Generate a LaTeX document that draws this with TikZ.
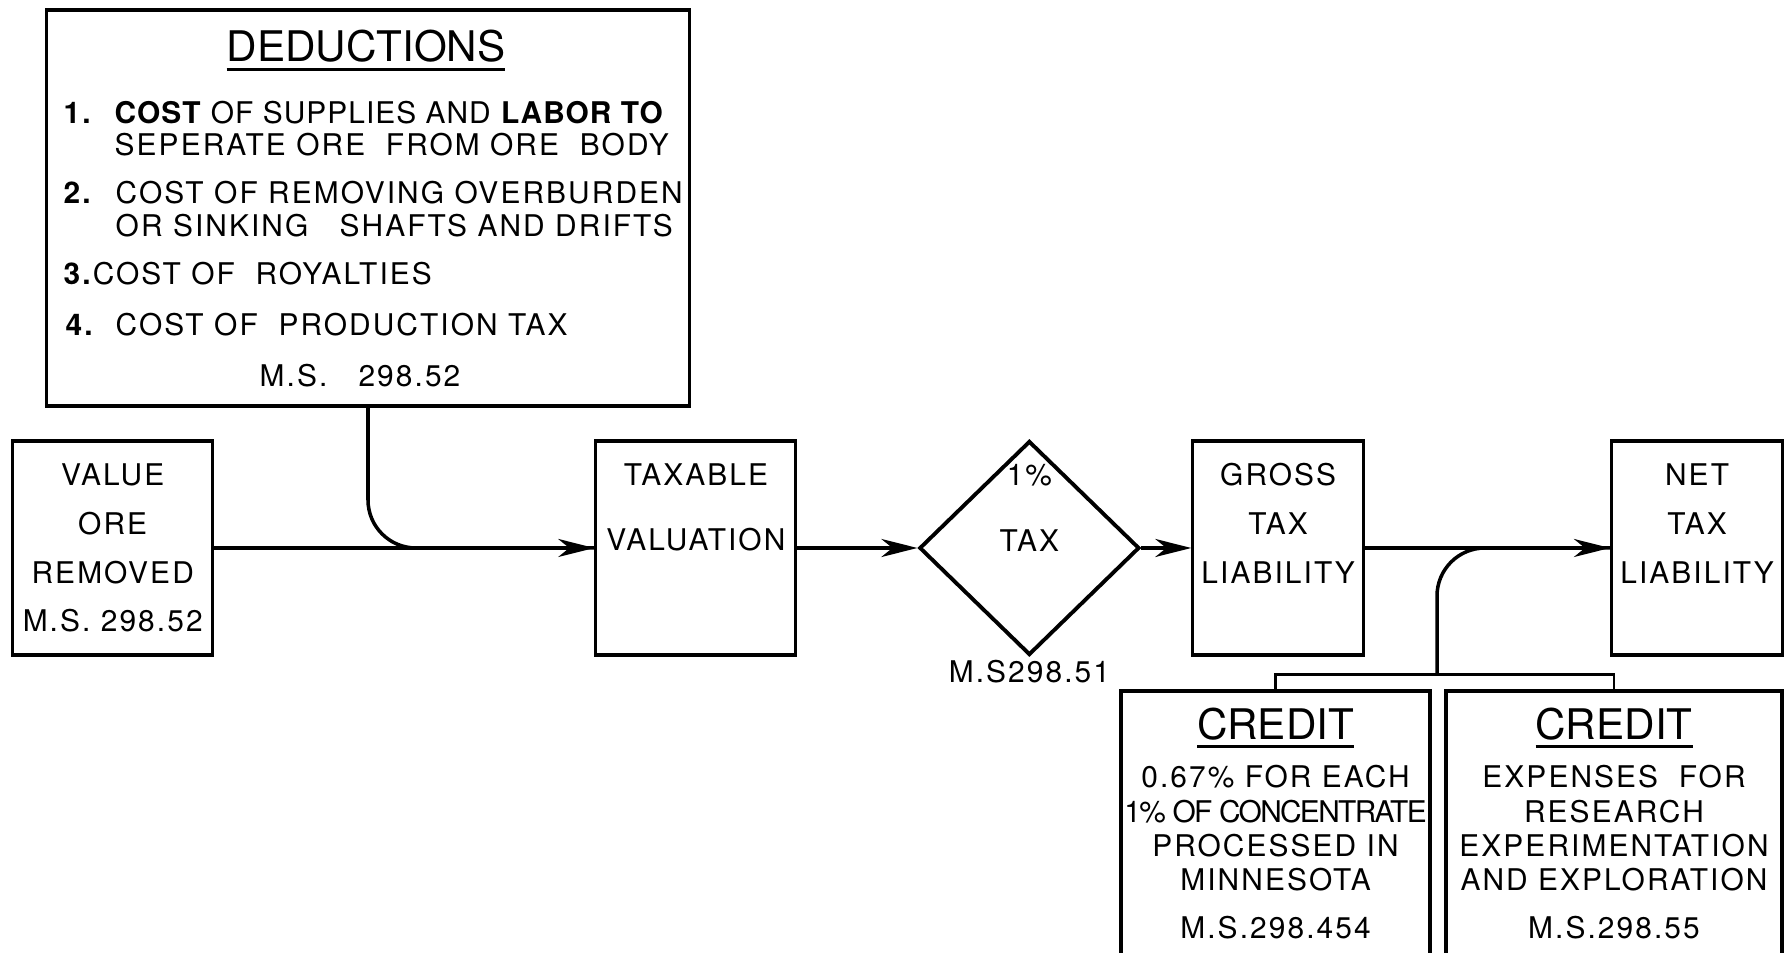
\documentclass[tikz,border=0pt]{standalone}
\usepackage{fontspec}
\usepackage{tikz}
\usetikzlibrary{arrows.meta,positioning,shapes.geometric}
\newfontfamily\lblfont[LetterSpace=7]{TeX Gyre Heros}
\newfontfamily\narrowfont[LetterSpace=3.5]{TeX Gyre Heros}
\newfontfamily\ttlfont{TeX Gyre Heros}
\newfontfamily\tightfont[LetterSpace=-5.5]{TeX Gyre Heros}
\newcommand{\bodyfnt}{\fontsize{8.5}{9.8}\selectfont\lblfont}
\newcommand{\headfnt}{\fontsize{12}{14}\selectfont\ttlfont}
\newsavebox{\ulbox}
\newcommand{\ulined}[1]{\sbox{\ulbox}{#1}\rlap{\smash{\rule[-2.55pt]{\wd\ulbox}{0.85pt}}}\usebox{\ulbox}}

\begin{document}
\begin{tikzpicture}[
    node distance=1cm,
    box/.style={draw, line width=0.9pt, align=center, inner sep=0pt, minimum height=2.14cm, font=\fontsize{8.5}{13.9}\selectfont\lblfont},
    creditbox/.style={draw, line width=0.9pt, align=center, inner sep=0pt, anchor=north, minimum height=3cm, font=\bodyfnt},
    textline/.style={anchor=base west, inner sep=0pt, font=\bodyfnt},
    every label/.style={font=\bodyfnt},
    arrow/.style={-{Stealth[length=3.6mm, width=1.8mm, inset=1.1mm]}, line width=1pt},
    link/.style={line width=1pt, rounded corners=4.8mm}
]
    \useasboundingbox (0,0) rectangle (17.84,9.53);
    \clip (0,0) rectangle (17.84,9.53);

    % deductions panel
    \node[draw, line width=0.9pt, minimum width=6.43cm, minimum height=3.96cm] (deductions) at (3.68,7.45) {};
    \node[anchor=base, inner sep=0pt, font=\headfnt] (dedtitle) at (3.66,8.913) {\ulined{DEDUCTIONS}};
    \node[textline] (num1) at (0.63,8.29) {\textbf{1.}};
    \node[textline, font=\fontsize{8.5}{9.8}\selectfont\narrowfont] (ded1) at (1.14,8.29) {\textbf{COST} OF SUPPLIES AND \textbf{LABOR TO}};
    \node[textline] (ded1b) at (1.14,7.977) {SEPERATE ORE\ \ FROM ORE\ \ BODY};
    \node[textline] (num2) at (0.63,7.499) {\textbf{2.}};
    \node[textline] (ded2) at (1.15,7.499) {COST OF REMOVING OVERBURDEN};
    \node[textline] (ded2b) at (1.15,7.169) {OR SINKING\ \ \ SHAFTS AND DRIFTS};
    \node[textline] (ded3) at (0.63,6.68) {\textbf{3.}COST OF\ \ ROYALTIES};
    \node[textline] (num4) at (0.65,6.179) {\textbf{4.}};
    \node[textline] (ded4) at (1.15,6.179) {COST OF\ \ PRODUCTION TAX};
    \node[anchor=base, inner sep=0pt, font=\bodyfnt] (dedref) at (3.60,5.667) {M.S.\ \ \ 298.52};

    % main row
    \node[box, minimum width=2.0cm] (value) at (1.127,4.05) {VALUE\\ORE\\REMOVED\\M.S.\ 298.52};
    \node[box, minimum width=2.0cm, right=3.80cm of value, font=\fontsize{8.5}{18.7}\selectfont\lblfont] (taxable) {TAXABLE\\VALUATION\\[4.5pt]\mbox{}};
    \node[diamond, draw, line width=1.1pt, minimum width=2.2cm, minimum height=2.14cm, inner sep=0pt, text depth=4pt, font=\bodyfnt, right=1.2cm of taxable,
        label={[yshift=0.73cm]center:1\%}, label={[label distance=-0.9mm]below:M.S298.51}] (tax) {TAX};
    \node[box, minimum width=1.705cm, right=0.50cm of tax] (gross) {GROSS\\TAX\\LIABILITY\\\mbox{}};
    \node[box, minimum width=1.71cm, right=2.45cm of gross] (net) {NET\\TAX\\LIABILITY\\\mbox{}};

    % credits
    \node[creditbox, minimum width=3.09cm] (credita) at (12.755,2.635) {{\headfnt\ulined{CREDIT}}\\[3.98pt]0.67\% FOR EACH\\{\tightfont 1\% OF CONCENTRATE}\\PROCESSED IN\\MINNESOTA\\[3.75pt]M.S.298.454\\[0.4pt]\mbox{}};
    \node[creditbox, minimum width=3.36cm] (creditb) at (16.14,2.635) {{\headfnt\ulined{CREDIT}}\\[3.98pt]EXPENSES\ \ FOR\\RESEARCH\\EXPERIMENTATION\\AND EXPLORATION\\[3.75pt]M.S.298.55\\[0.4pt]\mbox{}};

    % connectors
    \draw[arrow] (value) -- (taxable);
    \draw[link] (deductions.south) |- (taxable.west);
    \draw[arrow] (taxable) -- (tax);
    \draw[arrow] (tax) -- (gross);
    \draw[arrow] (gross) -- (net);
    \coordinate (fork) at (14.37,2.785);
    \draw[line width=0.7pt] (credita.north) |- (fork) -| (creditb.north);
    \draw[link] (fork) |- (net.west);
\end{tikzpicture}
\end{document}
